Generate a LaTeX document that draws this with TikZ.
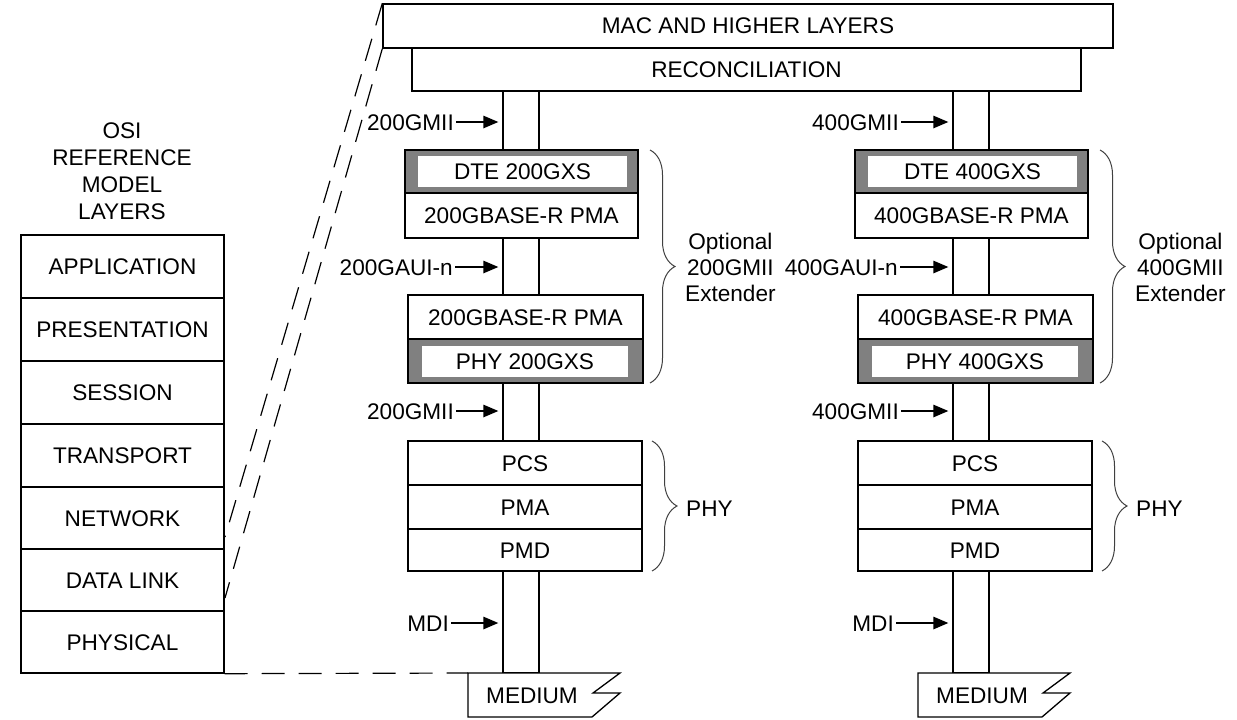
\documentclass[tikz,border=0pt]{standalone}
\usepackage{fontspec}
\setmainfont{Liberation Sans}
\usetikzlibrary{arrows.meta,decorations.pathreplacing}
\newcommand\mkbox[7][]{%
  \node[box,#1,minimum width={(#5)-(#3)},minimum height={(#6)-(#4)}] (#2) at ({((#3)+(#5))/2},{((#4)+(#6))/2}) {#7};}
\begin{document}
\begin{tikzpicture}[x=1pt,y=-1pt,
  every node/.style={font=\fontsize{22.6}{27}\selectfont, text height=16pt, text depth=0pt},
  box/.style={draw, line width=1.4pt, fill=white, inner sep=0pt},
  lab/.style={inner sep=0pt, anchor=east},
  multi/.style={align=center, inner sep=0pt, text height={}, text depth={}},
  arr/.style={line width=1.4pt, -{Triangle[length=15pt,width=12.5pt]}, shorten <=2pt, shorten >=4pt},
  brc/.style={decorate, decoration={brace, amplitude=25pt}, line width=1pt, draw=black!75},
  osidash/.style={line width=1.2pt, dash pattern=on 23pt off 14pt},
]
\useasboundingbox (0,0) rectangle (1237,720);

% OSI reference model
\node[multi] (ositl) at (122,171) {OSI\\REFERENCE\\MODEL\\LAYERS};
\mkbox{osi1}{21}{235}{224}{298}{APPLICATION}
\mkbox{osi2}{21}{298}{224}{361}{PRESENTATION}
\mkbox{osi3}{21}{361}{224}{424}{SESSION}
\mkbox{osi4}{21}{424}{224}{487}{TRANSPORT}
\mkbox{osi5}{21}{487}{224}{549}{NETWORK}
\mkbox{osi6}{21}{549}{224}{611}{DATA LINK}
\mkbox{osi7}{21}{611}{224}{673}{PHYSICAL}

\coordinate (dn) at (225,537);
\coordinate (dd) at (225,598);

\foreach \o/\g/\d in {0/200/0,450/400/-5}{
  % channel segments
  \mkbox{cha\g}{503+\o}{91}{539+\o}{150}{}
  \mkbox{chb\g}{503+\o}{238}{539+\o}{295}{}
  \mkbox{chc\g}{503+\o}{383}{539+\o}{441}{}
  \mkbox{chd\g}{503+\o}{571}{539+\o}{673}{}
  % extender
  \mkbox[fill=gray]{dteo\g}{405+\o}{150}{638+\o}{193}{}
  \mkbox[draw=none]{dte\g}{418+\o}{156}{627+\o}{187}{DTE \g GXS}
  \mkbox{pmaa\g}{405+\o}{193}{638+\o}{238}{\g GBASE-R PMA}
  \mkbox{pmab\g}{408+\o}{295}{643+\o}{339}{\g GBASE-R PMA}
  \mkbox[fill=gray]{phyo\g}{408+\o}{339}{643+\o}{383}{}
  \mkbox[draw=none]{phyx\g}{422+\o}{346}{628+\o}{377}{PHY \g GXS}
  % PHY
  \mkbox{pcs\g}{408+\o}{441}{642+\o}{485}{PCS}
  \mkbox{pma\g}{408+\o}{485}{642+\o}{529}{PMA}
  \mkbox{pmd\g}{408+\o}{529}{642+\o}{571}{PMD}
  % medium
  \draw[line width=1.3pt, fill=white] ({468+\o},673) coordinate (mtl\g) -- ({620+\o},673)
     -- ({593+\o},693) -- ({620+\o},693) -- ({592+\o},717) -- ({468+\o},717) -- cycle;
  \node (med\g) at ({532+\o},695) {MEDIUM};
  % interface labels
  \node[lab] (ga\g) at ({454+\o+\d},122) {\g GMII};
  \draw[arr] (ga\g.east) -- (ga\g.east -| cha\g.west);
  \node[lab] (au\g) at ({453+\o+\d},267) {\g GAUI-n};
  \draw[arr] (au\g.east) -- (au\g.east -| chb\g.west);
  \node[lab] (gb\g) at ({454+\o+\d},411) {\g GMII};
  \draw[arr] (gb\g.east) -- (gb\g.east -| chc\g.west);
  \node[lab] (mdi\g) at ({449+\o+\d},623) {MDI};
  \draw[arr] (mdi\g.east) -- (mdi\g.east -| chd\g.west);
  % braces
  \draw[brc] ({650+\o},150) -- ({650+\o},383);
  \node[multi, anchor=west, font=\fontsize{22.6}{26}\selectfont] (opt\g) at ({685+\o},267) {Optional\\\g GMII\\Extender};
  \draw[brc] ({652+\o},441) -- ({652+\o},571);
  \node[anchor=west, inner sep=0pt] (phy\g) at ({686+\o},508) {PHY};
}

\mkbox{mac}{383}{4}{1113}{48}{MAC AND HIGHER LAYERS}
\mkbox{rec}{412}{48}{1081}{91}{RECONCILIATION}

\draw[osidash] (mac.north west) -- (dn);
\draw[osidash] (mac.south west) -- (dd);
\draw[osidash] (osi7.south east) -- (mtl200);
\end{tikzpicture}
\end{document}
